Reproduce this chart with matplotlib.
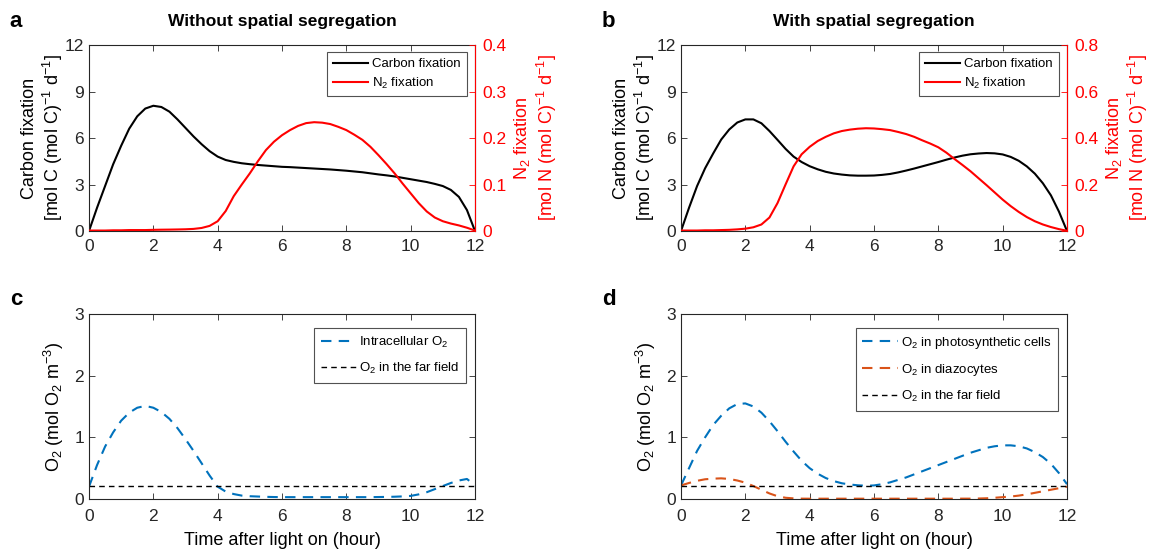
import numpy as np
import matplotlib
matplotlib.use('Agg')
from matplotlib import pyplot as plt

plt.rcParams['font.family'] = ['Liberation Sans', 'DejaVu Sans']
plt.rcParams['mathtext.fontset'] = 'custom'
plt.rcParams['mathtext.rm'] = 'Liberation Sans'
plt.rcParams['mathtext.it'] = 'Liberation Sans:italic'
plt.rcParams['xtick.direction'] = 'in'
plt.rcParams['ytick.direction'] = 'in'

# time axis (hours after light on), quarter-hour samples
t = [0, 0.25, 0.5, 0.75, 1, 1.25, 1.5, 1.75, 2, 2.25, 2.5, 2.75, 3, 3.25,
     3.5, 3.75, 4, 4.25, 4.5, 4.75, 5, 5.25, 5.5, 5.75, 6, 6.25, 6.5, 6.75,
     7, 7.25, 7.5, 7.75, 8, 8.25, 8.5, 8.75, 9, 9.25, 9.5, 9.75, 10, 10.25,
     10.5, 10.75, 11, 11.25, 11.5, 11.75, 12]

# panel a: without spatial segregation
carbon_a = [0, 1.5, 2.9, 4.3, 5.5, 6.6, 7.4, 7.9, 8.08, 8.0, 7.7, 7.2, 6.65,
            6.1, 5.6, 5.15, 4.8, 4.58, 4.46, 4.37, 4.31, 4.26, 4.22, 4.18,
            4.14, 4.12, 4.09, 4.06, 4.03, 4.0, 3.97, 3.93, 3.89, 3.84, 3.79,
            3.72, 3.65, 3.59, 3.52, 3.43, 3.34, 3.25, 3.16, 3.04, 2.9, 2.65,
            2.2, 1.35, 0]
n2_a = [0.001, 0.001, 0.001, 0.0015, 0.0015, 0.002, 0.002, 0.002, 0.0025,
        0.0028, 0.003, 0.0033, 0.0037, 0.0045, 0.0065, 0.011, 0.021, 0.043,
        0.075, 0.1, 0.124, 0.15, 0.174, 0.192, 0.206, 0.217, 0.226, 0.232,
        0.234, 0.233, 0.23, 0.224, 0.217, 0.207, 0.196, 0.181, 0.163, 0.144,
        0.124, 0.102, 0.081, 0.06, 0.042, 0.029, 0.021, 0.016, 0.012, 0.007,
        0.001]

# panel b: with spatial segregation
carbon_b = [0, 1.5, 2.9, 4.05, 5.0, 5.9, 6.55, 7.0, 7.2, 7.2, 6.95, 6.45, 5.88,
            5.3, 4.8, 4.45, 4.18, 3.98, 3.82, 3.71, 3.64, 3.59, 3.57, 3.57,
            3.58, 3.62, 3.68, 3.78, 3.9, 4.03, 4.17, 4.31, 4.45, 4.6, 4.74,
            4.86, 4.95, 5.0, 5.03, 5.01, 4.94, 4.78, 4.53, 4.17, 3.7, 3.08,
            2.3, 1.25, 0]
n2_b = [0.002, 0.002, 0.002, 0.003, 0.003, 0.004, 0.005, 0.007, 0.01, 0.016,
        0.028, 0.058, 0.12, 0.2, 0.278, 0.33, 0.362, 0.387, 0.405, 0.42, 0.43,
        0.436, 0.44, 0.442, 0.441, 0.438, 0.434, 0.426, 0.417, 0.405, 0.39,
        0.376, 0.36, 0.337, 0.31, 0.284, 0.257, 0.227, 0.197, 0.166, 0.135,
        0.107, 0.082, 0.06, 0.042, 0.028, 0.017, 0.008, 0.001]

# panel c: O2, no segregation
o2_cell_c = [0.2, 0.55, 0.85, 1.08, 1.27, 1.4, 1.48, 1.51, 1.48, 1.41, 1.3,
             1.15, 0.97, 0.78, 0.58, 0.38, 0.2, 0.12, 0.08, 0.055, 0.045,
             0.04, 0.035, 0.032, 0.03, 0.03, 0.03, 0.03, 0.03, 0.03, 0.03,
             0.03, 0.03, 0.03, 0.03, 0.03, 0.032, 0.034, 0.037, 0.042, 0.05,
             0.075, 0.11, 0.16, 0.21, 0.26, 0.3, 0.325, 0.22]

# panel d: O2, with segregation
o2_photo_d = [0.22, 0.5, 0.78, 1.0, 1.2, 1.35, 1.47, 1.54, 1.55, 1.5, 1.4,
              1.26, 1.1, 0.93, 0.77, 0.62, 0.5, 0.41, 0.34, 0.29, 0.255, 0.235,
              0.222, 0.215, 0.22, 0.24, 0.27, 0.31, 0.35, 0.4, 0.45, 0.5, 0.55,
              0.6, 0.65, 0.7, 0.75, 0.79, 0.83, 0.855, 0.87, 0.87, 0.855, 0.82,
              0.76, 0.68, 0.57, 0.42, 0.24]
o2_diazo_d = [0.22, 0.26, 0.295, 0.32, 0.33, 0.335, 0.325, 0.3, 0.265, 0.21,
              0.15, 0.09, 0.045, 0.02, 0.01, 0.006, 0.005, 0.005, 0.005, 0.005,
              0.005, 0.005, 0.005, 0.005, 0.005, 0.005, 0.005, 0.005, 0.005,
              0.005, 0.005, 0.005, 0.005, 0.005, 0.005, 0.006, 0.006, 0.008,
              0.012, 0.02, 0.03, 0.04, 0.055, 0.075, 0.1, 0.125, 0.15, 0.175,
              0.2]
o2_far = 0.21

titles = ['Without spatial segregation', 'With spatial segregation']
letters = ['a', 'b', 'c', 'd']

blue = '#0072BD'
orange = '#D95319'
dark = '#262626'

fig = plt.figure(figsize=(11.58, 5.51), dpi=100)

W, H = 1158, 551
lefts = [89, 681]
ax_w = 386 / W


def style_axes(ax):
    for s in ['left', 'bottom', 'top', 'right']:
        ax.spines[s].set_color(dark)
        ax.spines[s].set_linewidth(0.8)
    ax.tick_params(labelsize=12.5, colors=dark, length=4, width=0.6,
                   top=True, right=True)
    ax.tick_params(axis='x', pad=6)


for i, (carbon, n2, n2max) in enumerate([(carbon_a, n2_a, 0.4), (carbon_b, n2_b, 0.8)]):
    ax = fig.add_axes([lefts[i] / W, 1 - 231 / H, ax_w, 186 / H])
    style_axes(ax)
    ax.tick_params(right=False)
    ax.plot(t, carbon, color='k', lw=1.5)
    ax.set_xlim(0, 12)
    ax.set_ylim(0, 12)
    ax.set_xticks(np.arange(0, 13, 2))
    ax.set_yticks([0, 3, 6, 9, 12])
    ax.set_ylabel('Carbon fixation\n[mol C (mol C)$^{-1}$ d$^{-1}$]', fontsize=13,
                  color='k', labelpad=0, linespacing=1.15)
    ax.set_title(titles[i], fontsize=12.5, fontweight='bold', pad=14)
    ax2 = ax.twinx()
    ax2.plot(t, n2, color='red', lw=1.5)
    ax2.set_ylim(0, n2max)
    ticks2 = np.linspace(0, n2max, 5)
    ax2.set_yticks(ticks2)
    ax2.set_yticklabels(['0'] + ['%.1f' % v for v in ticks2[1:]])
    ax2.spines['right'].set_color('red')
    ax2.spines['right'].set_linewidth(0.8)
    for s in ['left', 'top', 'bottom']:
        ax2.spines[s].set_visible(False)
    ax2.tick_params(axis='y', colors='red', labelsize=12.5, length=4, width=0.6,
                    direction='in', pad=5)
    ax2.set_ylabel('N$_2$ fixation\n[mol N (mol C)$^{-1}$ d$^{-1}$]', fontsize=13,
                   color='red', labelpad=4, linespacing=1.15)
    h1, = ax.plot([], [], color='k', lw=1.5, label='Carbon fixation')
    h2, = ax.plot([], [], color='red', lw=1.5, label='N$_2$ fixation')
    leg = ax.legend(handles=[h1, h2], loc='upper right', fontsize=9.5,
                    frameon=True, fancybox=False, edgecolor=dark,
                    handlelength=2.7, handletextpad=0.3, borderpad=0.45,
                    labelspacing=0.4, borderaxespad=0,
                    bbox_to_anchor=(1 - 8 / 386, 1 - 7 / 186))
    leg.get_frame().set_linewidth(0.8)
    ax.text(-0.205, 1.07, letters[i], transform=ax.transAxes, fontsize=16,
            fontweight='bold', va='bottom', ha='left')

# bottom panels
for i in range(2):
    ax = fig.add_axes([lefts[i] / W, 1 - 499 / H, ax_w, 185 / H])
    style_axes(ax)
    ax.tick_params(axis='x', pad=7)
    if i == 0:
        ax.plot(t, o2_cell_c, color=blue, lw=1.5, ls=(0, (5, 3.5)),
                label='Intracellular O$_2$')
    else:
        ax.plot(t, o2_photo_d, color=blue, lw=1.5, ls=(0, (5, 3.5)),
                label='O$_2$ in photosynthetic cells')
        ax.plot(t, o2_diazo_d, color=orange, lw=1.5, ls=(0, (5, 3.5)),
                label='O$_2$ in diazocytes')
    ax.plot([0, 12], [o2_far, o2_far], color='k', lw=1.0, ls=(0, (4, 3)),
            label='O$_2$ in the far field')
    ax.set_xlim(0, 12)
    ax.set_ylim(0, 3)
    ax.set_xticks(np.arange(0, 13, 2))
    ax.set_yticks([0, 1, 2, 3])
    ax.set_ylabel('O$_2$ (mol O$_2$ m$^{-3}$)', fontsize=13, labelpad=6)
    ax.set_xlabel('Time after light on (hour)', fontsize=13, labelpad=6)
    leg = ax.legend(loc='upper right', fontsize=9.5, frameon=True,
                    fancybox=False, edgecolor=dark, handlelength=2.7,
                    handletextpad=0.2, borderpad=0.5, labelspacing=0.85,
                    borderaxespad=0,
                    bbox_to_anchor=(1 - 9 / 386, 1 - 14 / 185))
    leg.get_frame().set_linewidth(0.8)
    ax.text(-0.205, 1.02, letters[i + 2], transform=ax.transAxes, fontsize=16,
            fontweight='bold', va='bottom', ha='left')

plt.savefig('out.png', dpi=100)
